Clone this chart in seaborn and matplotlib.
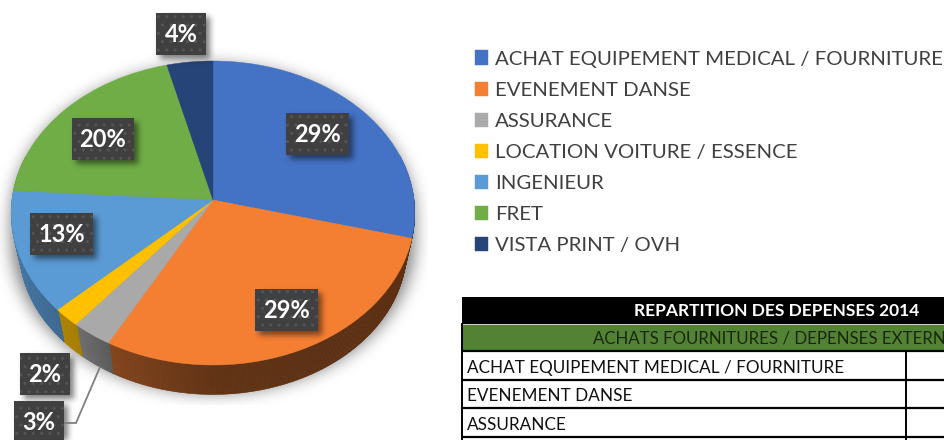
import numpy as np
import matplotlib
matplotlib.use("Agg")
import matplotlib.pyplot as plt
import matplotlib.transforms as mtransforms
from matplotlib.collections import PolyCollection
from matplotlib.colors import to_rgb
from matplotlib.patches import Rectangle
import seaborn as sns

categories = ["ACHAT EQUIPEMENT MEDICAL / FOURNITURE", "EVENEMENT DANSE", "ASSURANCE",
              "LOCATION VOITURE / ESSENCE", "INGENIEUR", "FRET", "VISTA PRINT / OVH"]
shares = [29, 29, 3, 2, 13, 20, 4]
pct_labels = ["29%", "29%", "3%", "2%", "13%", "20%", "4%"]
slice_colors = ["#4472C4", "#F47F33", "#A9A9A9", "#FFC000", "#5B9BD5", "#70AD47", "#264478"]
table_title = "REPARTITION DES DEPENSES 2014"
table_band = "ACHATS FOURNITURES / DEPENSES EXTERN"
table_rows = ["ACHAT EQUIPEMENT MEDICAL / FOURNITURE", "EVENEMENT DANSE", "ASSURANCE"]

sns.set_theme(style="white")
plt.rcParams["font.family"] = ["Lato", "DejaVu Sans"]
plt.rcParams["hatch.linewidth"] = 1.0

W, H = 944, 440
CX, CY, A, B, K = 213.0, 200.0, 201.0, 150.9, 0.0856
WALL_SCALE, WALL_DROP = 0.96, 36.0


def project(xy):
    xy = np.asarray(xy, float)
    d = 1 + K * xy[..., 1]
    return np.stack([CX + A * xy[..., 0] / d, CY - B * xy[..., 1] / d], axis=-1)


def lower_rim(p):
    return np.array([CX + (p[0] - CX) * WALL_SCALE, CY + (p[1] - CY) * WALL_SCALE + WALL_DROP])


class Perspective(mtransforms.Transform):
    input_dims = 2
    output_dims = 2
    is_separable = False
    has_inverse = False

    def transform_non_affine(self, values):
        return project(values)


def blur(img, sigma):
    r = int(3 * sigma)
    k = np.exp(-0.5 * (np.arange(-r, r + 1) / sigma) ** 2)
    k /= k.sum()
    out = np.apply_along_axis(lambda v: np.convolve(v, k, mode="same"), 0, img)
    return np.apply_along_axis(lambda v: np.convolve(v, k, mode="same"), 1, out)


def pie_mask(xx, yy):
    Y = CY - yy
    den = B - K * Y
    y = Y / den
    x = (xx - CX) * (1 + K * y) / A
    return (x ** 2 + y ** 2 <= 1) & (den > 0)


fig = plt.figure(figsize=(W / 100, H / 100), dpi=100, facecolor="white")
ax = fig.add_axes([0, 0, 1, 1])
palette = sns.color_palette(slice_colors)
wedges, _ = ax.pie(shares, colors=palette, startangle=90, counterclock=False,
                   wedgeprops={"linewidth": 0.3, "zorder": 4})
ax.set_aspect("auto")
ax.axis("off")

persp = Perspective() + ax.transData
for w, c in zip(wedges, palette):
    w.set_transform(persp)
    w.set_edgecolor(c)

# soft shadow under the pie, clipped to its rectangle as in a pasted picture
xx, yy = np.meshgrid(np.arange(W) + 0.5, np.arange(H) + 0.5)
mask = np.zeros((H, W))
for dy in range(4, 30, 2):
    mask = np.maximum(mask, pie_mask(xx, yy - dy).astype(float))
shadow = blur(mask, 8.0) * 0.5
shadow[405:, :] = 0
shadow[:, 428:] = 0
rgba = np.zeros((H, W, 4))
rgba[..., 3] = shadow
ax.imshow(rgba, extent=(0, W, H, 0), zorder=1, aspect="auto", interpolation="bilinear")

# extruded side wall, built from the wedge angles
for w, c in zip(wedges, palette):
    t = np.radians(np.arange(w.theta1, w.theta2 + 0.5, 0.5))
    t = np.append(t, np.radians(w.theta2))
    rim = project(np.stack([np.cos(t), np.sin(t)], axis=-1))
    polys, cols = [], []
    for i in range(len(t) - 1):
        if np.sin(t[i]) > 0.3:
            continue
        p0, p1 = rim[i], rim[i + 1]
        polys.append([p0, p1, lower_rim(p1), lower_rim(p0)])
        u = (np.degrees(t[i]) % 360)
        shade = np.interp(u, [176, 223, 230, 241, 270, 300, 360],
                          [0.85, 0.68, 0.66, 0.54, 0.40, 0.38, 0.38])
        cols.append(tuple(np.array(to_rgb(c)) * shade))
    if polys:
        ax.add_collection(PolyCollection(polys, facecolors=cols, edgecolors=cols,
                                         linewidths=0.4, zorder=3))

# data labels
label_boxes = [(286, 113, 63), (255, 289, 63), (14, 401, 50), (20, 353, 50),
               (30, 213, 63), (72, 118, 62), (156, 13, 50)]
box_h = 42
smask = np.zeros((H, W))
for x0, y0, bw in label_boxes:
    smask[max(y0 + 4, 0):min(y0 + box_h + 4, H), x0 + 4:x0 + bw + 4] = 1
rgba2 = np.zeros((H, W, 4))
rgba2[..., 3] = blur(smask, 3.0) * 0.5
ax.imshow(rgba2, extent=(0, W, H, 0), zorder=5, aspect="auto", interpolation="bilinear")

ax.plot([64, 76, 100], [423, 423, 367], color="#7f7f7f", lw=1.3, zorder=5.5,
        solid_joinstyle="miter")
for (x0, y0, bw), txt in zip(label_boxes, pct_labels):
    ax.add_patch(Rectangle((x0, y0), bw, box_h, facecolor="#404040", edgecolor="#555555",
                           hatch="..", linewidth=0, zorder=6))
    ax.text(x0 + bw / 2, y0 + box_h / 2 + 0.5, txt, color="white", fontsize=17, fontweight="bold",
            ha="center", va="center", zorder=7)

# legend
leg = ax.legend(wedges, categories, loc="upper left", bbox_to_anchor=(474.5 / W, 1 - 50.5 / H),
                frameon=False, fontsize=14.7, handlelength=0.68, handleheight=0.68,
                handletextpad=0.33, labelspacing=0.68, borderpad=0, borderaxespad=0,
                labelcolor="#404040")

# table, cut by the picture's right and lower edges as in the source
ax.add_patch(Rectangle((462, 297), W - 462, 26, facecolor="black", edgecolor="none", zorder=2))
ax.add_patch(Rectangle((462, 325), W - 462, 26, facecolor="#548235", edgecolor="none", zorder=2))
ax.text(777, 310.5, table_title, color="white", fontsize=12.5, fontweight="bold",
        ha="center", va="center", zorder=3)
ax.text(593, 339, table_band, color="#17280e", fontsize=12.2, ha="left", va="center", zorder=3)
line_ys = [351, 380, 408, 437]
for y in line_ys:
    ax.plot([462, W], [y, y], color="black", lw=1.6, zorder=3, solid_capstyle="butt")
ax.plot([462, W], [323.5, 323.5], color="black", lw=1, zorder=3)
ax.plot([462, 462], [323, H], color="black", lw=1.4, zorder=3, solid_capstyle="butt")
ax.plot([906, 906], [351, H], color="black", lw=1.4, zorder=3, solid_capstyle="butt")
for y0, y1, row in zip(line_ys[:-1], line_ys[1:], table_rows):
    ax.text(467, (y0 + y1) / 2 + 2, row, color="#111111", fontsize=12.35, ha="left", va="center", zorder=3)

ax.set_xlim(0, W)
ax.set_ylim(H, 0)
fig.savefig("out.png", dpi=100, facecolor="white")
